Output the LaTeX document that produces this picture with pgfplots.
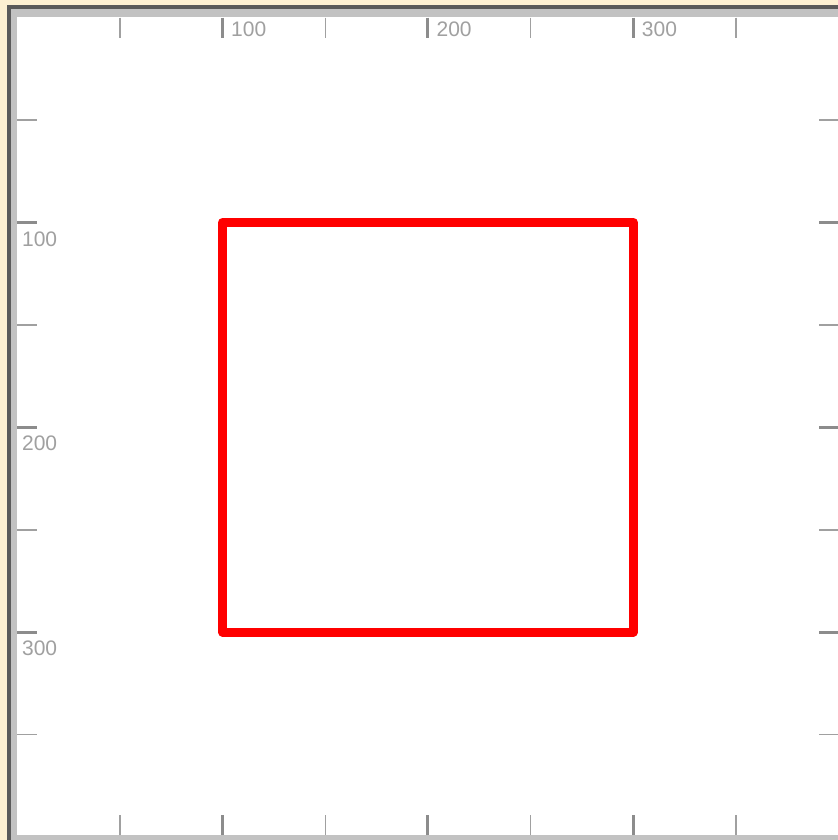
\documentclass[border=0pt]{standalone}
\usepackage{fontspec}
\setmainfont{Liberation Sans}
\usepackage{pgfplots}
\pgfplotsset{compat=1.18}

\definecolor{beige}{HTML}{FDF0D2}
\definecolor{framedark}{HTML}{5A5A5A}
\definecolor{framelight}{HTML}{C2C2C2}
\definecolor{tickmajor}{HTML}{8C8C8C}
\definecolor{tickminor}{HTML}{A0A0A0}
\definecolor{ticklabel}{HTML}{A0A0A0}

\begin{document}
\begin{tikzpicture}
  % frame (1px = 0.5pt, origin at top-left of the plot area)
  \path[use as bounding box] (-8.65pt,8.75pt) rectangle (410.35pt,-411.25pt);
  \fill[beige] (-8.65pt,8.75pt) rectangle (412pt,-412pt);
  \fill[framedark] (-5.15pt,6.25pt) rectangle (412pt,-412pt);
  \fill[framelight] (-3.15pt,4.25pt) rectangle (412pt,-412pt);
  \fill[white] (0pt,0pt) rectangle (412pt,-408.75pt);

  \begin{axis}[
    at={(0pt,0pt)}, anchor=north west,
    scale only axis,
    width=410.67pt, height=408.75pt,
    xmin=0, xmax=400,
    ymin=0, ymax=399,
    y dir=reverse,
    axis line style={draw=none},
    xtick={100,200,300},
    ytick={100,200,300},
    minor xtick={50,150,250,350},
    minor ytick={50,150,250,350},
    tick align=inside,
    major tick length=10pt,
    minor tick length=10pt,
    major tick style={line width=1.5pt, draw=tickmajor},
    minor tick style={line width=0.8pt, draw=tickminor},
    xticklabel pos=upper,
    yticklabel pos=left,
    /pgf/number format/assume math mode=true,
    tick label style={font=\fontsize{10.5}{12}\selectfont, text=ticklabel, inner sep=0pt},
    xticklabel style={anchor=north west, xshift=4.1pt, yshift=-1.8pt},
    yticklabel style={anchor=north west, xshift=2.2pt, yshift=-4.3pt},
    ]
    \addplot[red, line width=4.5pt, line join=round, mark=none]
    coordinates {
      (100,100)(300,100)(300,300)(100,300)
    } -- cycle;
  \end{axis}
\end{tikzpicture}
\end{document}
